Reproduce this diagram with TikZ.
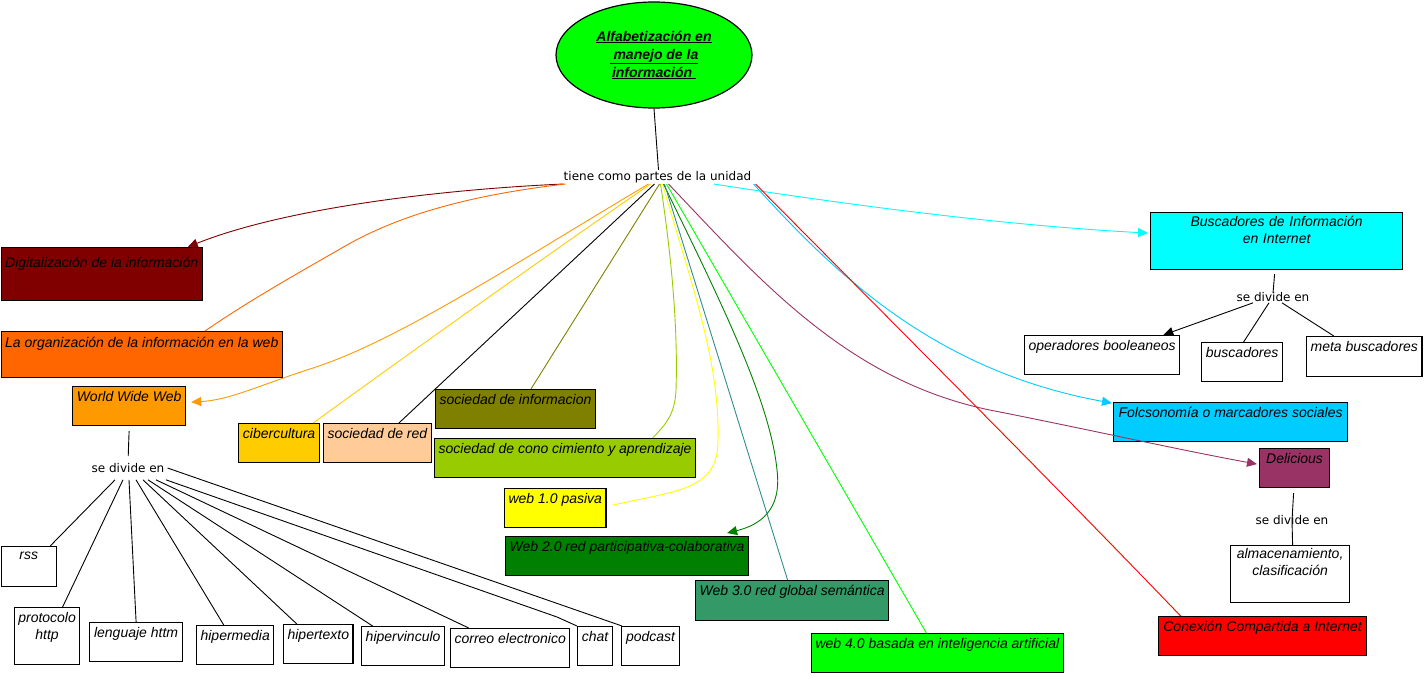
\documentclass[tikz,border=0pt]{standalone}
\usepackage{fontspec}
\setmainfont{Liberation Sans}
\newfontfamily\lblfont{DejaVu Sans}
\usetikzlibrary{arrows.meta,shapes.geometric}
\definecolor{cMain}{HTML}{00FF00}
\definecolor{cDig}{HTML}{800000}
\definecolor{cOrg}{HTML}{FF6600}
\definecolor{cWww}{HTML}{FF9900}
\definecolor{cCib}{HTML}{FFCC00}
\definecolor{cSred}{HTML}{FFCC99}
\definecolor{cSinf}{HTML}{808000}
\definecolor{cScon}{HTML}{99CC00}
\definecolor{cWa}{HTML}{FFFF00}
\definecolor{cWb}{HTML}{008000}
\definecolor{cWc}{HTML}{339966}
\definecolor{cWcl}{HTML}{338C8C}
\definecolor{cWd}{HTML}{00FF00}
\definecolor{cBusc}{HTML}{00FFFF}
\definecolor{cFolc}{HTML}{00CCFF}
\definecolor{cDel}{HTML}{993366}
\definecolor{cCon}{HTML}{FF0000}
\begin{document}
\begin{tikzpicture}[x=1pt,y=-1pt,
  cbox/.style={draw=black, line width=1.2pt, anchor=north west, inner xsep=4pt, inner ysep=4pt,
    text height=11pt, font=\itshape\fontsize{14}{17}\selectfont, text=black},
  lbl/.style={font=\lblfont\fontsize{12}{14}\selectfont, inner sep=1pt, text=black},
  conn/.style={line width=0.9pt},
  arr/.style={-{Triangle[length=10pt,width=9pt]}},
]
\useasboundingbox (0,0) rectangle (1428,679);

% main
\node[ellipse, draw=black, line width=1.2pt, fill=cMain, minimum width=196pt, minimum height=106pt,
  inner sep=0pt, align=center, font=\bfseries\itshape\fontsize{14}{18}\selectfont] (main) at (654,55)
  {\underline{Alfabetización en}\\\underline{ manejo de la}\\\underline{información }};
\node[lbl] (T) at (657.5,177) {tiene como partes de la unidad};

% left / centre boxes
\node[cbox, fill=cDig, minimum width=201pt, text height=16pt, text depth=29pt] (dig) at (0.6,247) {Digitalización de la información};
\node[cbox, fill=cOrg, minimum width=281pt, text height=12pt, text depth=26pt] (org) at (0.6,331) {La organización de la información en la web};
\node[cbox, fill=cWww, minimum width=113pt, text depth=20pt] (www) at (72,386) {World Wide Web};
\node[cbox, fill=cCib, minimum width=81pt, text depth=20pt] (cib) at (238,423) {cibercultura};
\node[cbox, fill=cSred, minimum width=107pt, text depth=20pt] (sred) at (323,423) {sociedad de red};
\node[cbox, fill=cSinf, minimum width=159pt, text depth=20pt] (sinf) at (435,389) {sociedad de informacion};
\node[cbox, fill=cScon, minimum width=261pt, text depth=20pt] (scon) at (434,438) {sociedad de cono cimiento y aprendizaje};
\node[cbox, fill=cWa, minimum width=100pt, text depth=20pt] (wa) at (504,488) {web 1.0 pasiva};
\node[cbox, fill=cWb, minimum width=243pt, text depth=20pt] (wb) at (505,536) {Web 2.0 red participativa-colaborativa};
\node[cbox, fill=cWc, minimum width=193pt, text depth=21pt] (wc) at (695,580) {Web 3.0 red global semántica};
\node[cbox, fill=cWd, minimum width=250pt, text depth=20pt] (wd) at (811,633) {web 4.0 basada en inteligencia artificial};

% right boxes
\node[cbox, fill=cBusc, text width=244pt, align=center, text height=10pt, text depth=39pt] (busc) at (1150,212) {Buscadores de Información\\en Internet};
\node[lbl] (bl) at (1273,297) {se divide en};
\node[cbox, fill=white, minimum width=155pt, text depth=20pt] (oper) at (1024,335) {operadores booleaneos};
\node[cbox, fill=white, minimum width=81pt, text depth=20pt] (buscs) at (1201,342) {buscadores};
\node[cbox, fill=white, minimum width=115pt, text depth=21pt] (meta) at (1306,336) {meta buscadores};
\node[cbox, fill=cFolc, minimum width=234pt, text depth=20pt] (folc) at (1113,402) {Folcsonomía o marcadores sociales};
\node[cbox, fill=cDel, minimum width=70pt, text depth=20pt] (del) at (1259,448) {Delicious};
\node[lbl] (dl) at (1292,520) {se divide en};
\node[cbox, fill=white, inner xsep=1pt, text width=117pt, align=center, text height=9pt, text depth=40pt] (alm) at (1230,545) {almacenamiento,\\clasificación};
\node[cbox, fill=cCon, minimum width=208pt, text depth=20pt] (con) at (1158,616) {Conexión Compartida a Internet};

% WWW children
\node[lbl] (wl) at (128,468) {se divide en};
\node[cbox, fill=white, minimum width=55pt, text height=9pt, text depth=23pt] (rss) at (0.6,546) {rss};
\node[cbox, fill=white, inner xsep=1pt, text width=63pt, align=center, text depth=38pt] (prot) at (14,607) {protocolo\\http};
\node[cbox, fill=white, minimum width=93pt, text depth=20pt] (leng) at (89,622) {lenguaje httm};
\node[cbox, fill=white, minimum width=77pt, text depth=20pt] (hipm) at (196,625) {hipermedia};
\node[cbox, fill=white, minimum width=69pt, text depth=20pt] (hipt) at (283,624) {hipertexto};
\node[cbox, fill=white, minimum width=83pt, text depth=20pt] (hipv) at (361,626) {hipervinculo};
\node[cbox, fill=white, minimum width=119pt, text depth=20pt] (corr) at (450,628) {correo electronico};
\node[cbox, fill=white, minimum width=35pt, text depth=20pt] (chat) at (577,626) {chat};
\node[cbox, fill=white, minimum width=58pt, text depth=20pt] (pod) at (621,626) {podcast};

% connectors: main
\draw[conn] (main.south) -- ([xshift=1pt]T.north);
\draw[conn, cDig, arr] ([xshift=-94pt]T.south) .. controls (430,190) and (280,210) .. ([xshift=-15pt]dig.north east);
\draw[conn, cOrg] ([xshift=-92pt]T.south) .. controls (470,195) and (400,215) .. (347,245) .. controls (300,272) and (250,300) .. ([xshift=-78pt]org.north east);
\draw[conn, cWww, arr] ([xshift=-9pt]T.south) .. controls (520,260) and (400,340) .. (313,368) .. controls (260,385) and (230,400) .. ([xshift=5pt,yshift=4pt]www.east);
\draw[conn, cCib] ([xshift=-7pt]T.south) .. controls (540,260) and (400,360) .. ([xshift=-7pt]cib.north east);
\draw[conn, black] ([xshift=-3pt]T.south) -- ([xshift=21.5pt]sred.north);
\draw[conn, cSinf] ([xshift=2pt]T.south) -- ([xshift=15.5pt]sinf.north);
\draw[conn, cScon] ([xshift=3pt]T.south) .. controls (672,260) and (678,330) .. (676,390) .. controls (675,415) and (665,425) .. ([xshift=87.5pt]scon.north);
\draw[conn, cWa] ([xshift=5pt]T.south) .. controls (690,280) and (720,360) .. (718,440) .. controls (718,490) and (680,490) .. ([xshift=6pt,yshift=3pt]wa.east);
\draw[conn, cWb, arr] ([xshift=6pt]T.south) .. controls (720,300) and (770,400) .. (777,470) .. controls (782,510) and (760,525) .. ([xshift=100pt,yshift=3pt]wb.north);
\draw[conn, cWcl] ([xshift=7pt]T.south) -- ([xshift=-4.5pt]wc.north);
\draw[conn, cWd] ([xshift=9pt]T.south) -- ([xshift=-11pt]wd.north);
\draw[conn, cDel, arr] ([xshift=11pt]T.south) .. controls (760,280) and (850,385) .. (1000,412) .. controls (1100,432) and (1180,450) .. ([xshift=-2pt,yshift=4pt]del.west);
\draw[conn, cBusc, arr] ([xshift=56pt]T.south) .. controls (850,205) and (1000,225) .. ([xshift=-2pt,yshift=8pt]busc.west);
\draw[conn, cFolc, arr] ([xshift=96pt]T.south) .. controls (830,268) and (930,370) .. ([xshift=-1pt,yshift=19pt]folc.west);
\draw[conn, cCon] ([xshift=98pt]T.south) .. controls (900,330) and (1050,480) .. ([xshift=-82pt]con.north);

% buscadores sub
\draw[conn] ([xshift=-2pt,yshift=-4pt]busc.south) -- ([yshift=-2pt]bl.north);
\draw[conn, arr] ([xshift=-20pt]bl.south) -- ([xshift=-17pt]oper.north east);
\draw[conn] ([xshift=-4pt]bl.south) -- ([xshift=1.5pt]buscs.north);
\draw[conn] ([xshift=9pt]bl.south) -- ([xshift=-30.5pt]meta.north);

% delicious sub
\draw[conn] ([xshift=-1pt,yshift=-5pt]del.south) -- (dl.center) -- ([xshift=2.5pt]alm.north);

% www sub
\draw[conn, shorten >=6pt] ([yshift=-5pt]www.south) -- (wl.north);
\draw[conn] ([xshift=-13pt,yshift=-6pt]wl.south) -- ([xshift=21.5pt]rss.north);
\draw[conn] ([xshift=-5pt,yshift=-6pt]wl.south) -- ([xshift=15.5pt]prot.north);
\draw[conn] ([xshift=1pt,yshift=-6pt]wl.south) -- (leng.north);
\draw[conn] ([xshift=8pt,yshift=-6pt]wl.south) -- ([xshift=-11.5pt]hipm.north);
\draw[conn] ([xshift=15pt,yshift=-6pt]wl.south) -- ([xshift=-21.5pt]hipt.north);
\draw[conn] ([xshift=20pt,yshift=-6pt]wl.south) -- ([xshift=-30.5pt]hipv.north);
\draw[conn] ([xshift=28pt,yshift=-6pt]wl.south) -- ([xshift=-41.5pt]corr.north);
\draw[conn] ([xshift=38pt,yshift=-6pt]wl.south) -- ([xshift=-20pt,yshift=9pt]chat.north west) -- (chat.north west);
\draw[conn] ([xshift=2pt]wl.east) -- ([xshift=1pt]pod.north west);
\end{tikzpicture}
\end{document}
